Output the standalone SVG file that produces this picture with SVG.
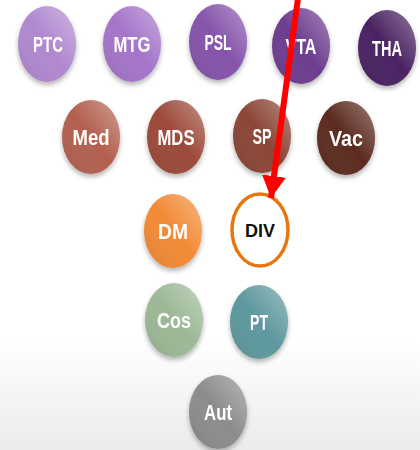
<svg xmlns="http://www.w3.org/2000/svg" width="420" height="450" viewBox="0 0 420 450">
  <defs>
    <!-- page background: white fading to light grey at the foot -->
    <linearGradient id="bg" x1="0" y1="0" x2="0" y2="1">
      <stop offset="0" stop-color="#ffffff"/>
      <stop offset="0.76" stop-color="#ffffff"/>
      <stop offset="1" stop-color="#ebebeb"/>
    </linearGradient>
    <!-- glossy light/shade overlay shared by all bubbles -->
    <linearGradient id="sheen" x1="1" y1="0" x2="0" y2="1">
      <stop offset="0" stop-color="#ffffff" stop-opacity="0.38"/>
      <stop offset="0.5" stop-color="#ffffff" stop-opacity="0"/>
      <stop offset="1" stop-color="#000000" stop-opacity="0.12"/>
    </linearGradient>
    <filter id="shadow" x="-30%" y="-30%" width="160%" height="170%">
      <feGaussianBlur in="SourceAlpha" stdDeviation="2.5"/>
      <feOffset dx="0" dy="3" result="b"/>
      <feComponentTransfer><feFuncA type="linear" slope="0.3"/></feComponentTransfer>
      <feMerge><feMergeNode/><feMergeNode in="SourceGraphic"/></feMerge>
    </filter>
    <marker id="head" markerUnits="userSpaceOnUse" markerWidth="26" markerHeight="26" refX="22" refY="12" orient="auto">
      <path d="M0,0 L22,12 L0,24 Z" fill="#ff0000"/>
    </marker>
  </defs>
  <style>
    .bub { filter: url(#shadow); }
    .gloss { fill: url(#sheen); }
    .lbl { font-family: "Liberation Sans", Arial, sans-serif; font-size: 22px; font-weight: bold; fill: #ffffff; text-anchor: middle; }
    .lbl2 { font-family: "Liberation Sans", Arial, sans-serif; font-size: 18px; font-weight: bold; fill: #111111; text-anchor: middle; }
  </style>

  <rect x="0" y="0" width="420" height="450" fill="url(#bg)"/>

  <!-- row 1 -->
  <g id="PTC" class="bub"><ellipse cx="47" cy="44" rx="29" ry="38" fill="#b088cf"/><ellipse cx="47" cy="44" rx="29" ry="38" class="gloss"/><text class="lbl" x="48" y="52" textLength="30" lengthAdjust="spacingAndGlyphs">PTC</text></g>
  <g id="MTG" class="bub"><ellipse cx="132" cy="44" rx="29" ry="38" fill="#a474c9"/><ellipse cx="132" cy="44" rx="29" ry="38" class="gloss"/><text class="lbl" x="132" y="52" textLength="37" lengthAdjust="spacingAndGlyphs">MTG</text></g>
  <g id="PSL" class="bub"><ellipse cx="218" cy="42" rx="29" ry="38" fill="#8653ab"/><ellipse cx="218" cy="42" rx="29" ry="38" class="gloss"/><text class="lbl" x="218" y="50" textLength="27" lengthAdjust="spacingAndGlyphs">PSL</text></g>
  <g id="VTA" class="bub"><ellipse cx="301" cy="46" rx="29" ry="38" fill="#6d3d8e"/><ellipse cx="301" cy="46" rx="29" ry="38" class="gloss"/><text class="lbl" x="301" y="54" textLength="31" lengthAdjust="spacingAndGlyphs">VTA</text></g>
  <g id="THA" class="bub"><ellipse cx="387" cy="48" rx="29" ry="38" fill="#4a2362"/><ellipse cx="387" cy="48" rx="29" ry="38" class="gloss"/><text class="lbl" x="387" y="56" textLength="30" lengthAdjust="spacingAndGlyphs">THA</text></g>

  <!-- row 2 -->
  <g id="Med" class="bub"><ellipse cx="91" cy="137" rx="29" ry="37" fill="#b3604f"/><ellipse cx="91" cy="137" rx="29" ry="37" class="gloss"/><text class="lbl" x="91" y="145" textLength="37" lengthAdjust="spacingAndGlyphs">Med</text></g>
  <g id="MDS" class="bub"><ellipse cx="176" cy="137" rx="29" ry="37" fill="#9c4a3a"/><ellipse cx="176" cy="137" rx="29" ry="37" class="gloss"/><text class="lbl" x="176" y="145" textLength="37" lengthAdjust="spacingAndGlyphs">MDS</text></g>
  <g id="SP" class="bub"><ellipse cx="262" cy="136" rx="29" ry="37" fill="#8b4536"/><ellipse cx="262" cy="136" rx="29" ry="37" class="gloss"/><text class="lbl" x="262" y="144" textLength="19" lengthAdjust="spacingAndGlyphs">SP</text></g>
  <g id="Vac" class="bub"><ellipse cx="346" cy="138" rx="29" ry="37" fill="#5c2b20"/><ellipse cx="346" cy="138" rx="29" ry="37" class="gloss"/><text class="lbl" x="346" y="146" textLength="34" lengthAdjust="spacingAndGlyphs">Vac</text></g>

  <!-- row 3 -->
  <g id="DM" class="bub"><ellipse cx="173" cy="231" rx="29" ry="37" fill="#f28a35"/><ellipse cx="173" cy="231" rx="29" ry="37" class="gloss"/><text class="lbl" x="173" y="239" textLength="30" lengthAdjust="spacingAndGlyphs">DM</text></g>
  <g id="DIV"><ellipse cx="260" cy="230" rx="28" ry="36" fill="#ffffff" stroke="#e8760f" stroke-width="3.5"/><text class="lbl2" x="260" y="237" textLength="30" lengthAdjust="spacingAndGlyphs">DIV</text></g>

  <!-- row 4 -->
  <g id="Cos" class="bub"><ellipse cx="174" cy="320" rx="29" ry="37" fill="#9cb896"/><ellipse cx="174" cy="320" rx="29" ry="37" class="gloss"/><text class="lbl" x="174" y="328" textLength="34" lengthAdjust="spacingAndGlyphs">Cos</text></g>
  <g id="PT" class="bub"><ellipse cx="259" cy="322" rx="29" ry="37" fill="#5e989e"/><ellipse cx="259" cy="322" rx="29" ry="37" class="gloss"/><text class="lbl" x="259" y="330" textLength="18" lengthAdjust="spacingAndGlyphs">PT</text></g>

  <!-- row 5 -->
  <g id="Aut" class="bub"><ellipse cx="218" cy="412" rx="29" ry="37" fill="#8c8c8c"/><ellipse cx="218" cy="412" rx="29" ry="37" class="gloss"/><text class="lbl" x="218" y="420" textLength="28" lengthAdjust="spacingAndGlyphs">Aut</text></g>

  <!-- connectors -->
  <g id="connectors">
    <line x1="298" y1="-2" x2="271" y2="198" stroke="#ff0000" stroke-width="6" marker-end="url(#head)"/>
  </g>
</svg>
